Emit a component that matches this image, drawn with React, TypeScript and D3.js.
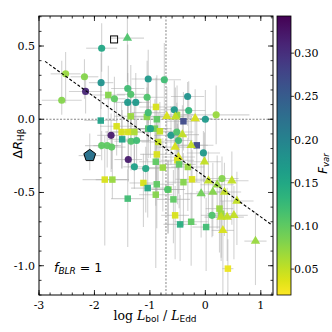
import React from 'react';
import * as d3 from 'd3';

// [log Lbol/LEdd, dR_Hb, Fvar, xerr, yerrLow, yerrHigh]
const circles = [
  [-1.87, 0.485, 0.15, 0.28, 0.16, 0.17],
  [-2.52, 0.31, 0.07, 0.27, 0.2, 0.15],
  [-2.18, 0.29, 0.08, 0.25, 0.15, 0.12],
  [-1.88, 0.25, 0.18, 0.22, 0.18, 0.2],
  [-2.16, 0.19, 0.31, 0.3, 0.15, 0.12],
  [-2.59, 0.13, 0.08, 0.36, 0.1, 0.27],
  [-1.64, 0.14, 0.1, 0.2, 0.15, 0.15],
  [-1.03, 0.275, 0.17, 0.3, 0.3, 0.2],
  [-0.74, 0.27, 0.12, 0.3, 0.25, 0.25],
  [-1.4, 0.21, 0.12, 0.3, 0.2, 0.3],
  [-1.345, 0.17, 0.11, 0.25, 0.2, 0.2],
  [-1.05, 0.15, 0.11, 0.3, 0.25, 0.25],
  [-0.32, 0.155, 0.18, 0.3, 0.2, 0.1],
  [-1.4, 0.115, 0.17, 0.25, 0.2, 0.2],
  [-1.255, 0.115, 0.17, 0.25, 0.25, 0.2],
  [-0.56, 0.065, 0.17, 0.25, 0.25, 0.2],
  [-0.3, 0.06, 0.13, 0.3, 0.2, 0.2],
  [-1.03, 0.045, 0.12, 0.3, 0.2, 0.2],
  [0.0, 0.0, 0.17, 0.25, 0.3, 0.2],
  [0.195, 0.03, 0.07, 0.6, 0.2, 0.2],
  [-1.7, -0.11, 0.32, 0.25, 0.25, 0.15],
  [-1.87, -0.18, 0.1, 0.3, 0.1, 0.1],
  [-1.77, -0.18, 0.1, 0.25, 0.15, 0.1],
  [-1.69, -0.19, 0.1, 0.25, 0.15, 0.1],
  [-1.34, -0.15, 0.11, 0.3, 0.2, 0.15],
  [-1.24, -0.145, 0.12, 0.25, 0.2, 0.15],
  [-0.62, -0.11, 0.17, 0.3, 0.2, 0.2],
  [-0.515, -0.087, 0.11, 0.3, 0.2, 0.2],
  [-0.485, -0.145, 0.12, 0.25, 0.2, 0.2],
  [-0.035, -0.23, 0.17, 0.3, 0.2, 0.15],
  [-1.39, -0.275, 0.32, 0.25, 0.15, 0.15],
  [-1.28, -0.325, 0.16, 0.2, 0.15, 0.15],
  [-1.075, -0.337, 0.15, 0.25, 0.3, 0.15],
  [0.3, -0.405, 0.08, 0.3, 0.2, 0.15],
  [-0.68, -0.48, 0.11, 0.3, 0.3, 0.2],
  [0.12, -0.656, 0.11, 0.2, 0.15, 0.15],
  [-0.99, -0.064, 0.16, 0.3, 0.2, 0.2],
];

const squares = [
  [-1.886, -0.009, 0.16, 0.3, 0.2, 0.25],
  [-1.75, 0.166, 0.08, 0.3, 0.25, 0.2],
  [-1.6, -0.048, 0.04, 0.3, 0.2, 0.2],
  [-1.51, -0.087, 0.04, 0.3, 0.25, 0.2],
  [-1.39, -0.087, 0.04, 0.3, 0.25, 0.2],
  [-1.28, -0.087, 0.06, 0.3, 0.25, 0.2],
  [-1.5, -0.137, 0.16, 0.25, 0.2, 0.2],
  [-0.89, 0.084, 0.04, 0.3, 0.3, 0.2],
  [-1.345, 0.02, 0.07, 0.3, 0.2, 0.2],
  [-1.055, 0.016, 0.08, 0.3, 0.3, 0.2],
  [-0.875, 0.0, 0.1, 0.3, 0.2, 0.3],
  [-0.51, 0.03, 0.07, 0.3, 0.25, 0.2],
  [-0.395, -0.014, 0.27, 0.3, 0.2, 0.2],
  [-1.03, -0.064, 0.11, 0.35, 0.2, 0.2],
  [-0.91, -0.064, 0.09, 0.3, 0.25, 0.2],
  [-0.82, -0.082, 0.05, 0.3, 0.25, 0.2],
  [-0.85, -0.155, 0.05, 0.3, 0.3, 0.2],
  [-0.155, -0.178, 0.27, 0.3, 0.25, 0.2],
  [-0.875, -0.24, 0.04, 0.3, 0.3, 0.25],
  [-0.894, -0.29, 0.1, 0.3, 0.3, 0.2],
  [-0.767, -0.33, 0.07, 0.3, 0.3, 0.2],
  [-0.504, -0.28, 0.04, 0.3, 0.3, 0.25],
  [-0.473, -0.308, 0.1, 0.3, 0.3, 0.2],
  [-0.316, -0.326, 0.07, 0.3, 0.3, 0.2],
  [-1.814, -0.412, 0.04, 0.4, 0.45, 0.3],
  [-1.677, -0.412, 0.07, 0.3, 0.13, 0.3],
  [-1.117, -0.435, 0.04, 0.25, 0.3, 0.2],
  [-0.876, -0.444, 0.1, 0.3, 0.3, 0.2],
  [-1.04, -0.47, 0.15, 0.3, 0.2, 0.2],
  [-0.894, -0.515, 0.08, 0.3, 0.5, 0.2],
  [-0.666, -0.48, 0.08, 0.3, 0.3, 0.2],
  [-1.4, -0.542, 0.12, 0.3, 0.33, 0.2],
  [-0.576, -0.547, 0.1, 0.3, 0.3, 0.2],
  [-0.545, -0.656, 0.04, 0.25, 0.3, 0.2],
  [-0.455, -0.718, 0.14, 0.3, 0.25, 0.2],
  [-0.256, -0.7, 0.1, 0.3, 0.3, 0.2],
  [-0.395, -0.43, 0.08, 0.3, 0.3, 0.2],
  [-0.24, -0.41, 0.04, 0.3, 0.3, 0.2],
  [0.255, -0.61, 0.07, 0.25, 0.3, 0.2],
  [0.285, -0.645, 0.07, 0.25, 0.3, 0.2],
  [0.014, -0.736, 0.12, 0.25, 0.3, 0.2],
  [0.406, -1.02, 0.03, 0.1, 0.25, 0.2],
];

const triangles = [
  [-1.406, 0.554, 0.11, 0.3, 0.3, 0.15],
  [-0.695, 0.02, 0.04, 0.3, 0.25, 0.2],
  [-0.184, 0.005, 0.04, 0.3, 0.2, 0.2],
  [-0.54, 0.016, 0.05, 0.3, 0.2, 0.2],
  [-0.414, -0.105, 0.05, 0.3, 0.2, 0.2],
  [-0.545, -0.19, 0.04, 0.3, 0.25, 0.2],
  [-0.485, -0.258, 0.04, 0.3, 0.25, 0.2],
  [-0.256, -0.178, 0.05, 0.3, 0.25, 0.2],
  [-0.016, -0.29, 0.05, 0.3, 0.25, 0.2],
  [0.056, -0.42, 0.05, 0.3, 0.3, 0.2],
  [0.478, -0.42, 0.05, 0.3, 0.3, 0.2],
  [0.213, -0.447, 0.07, 0.3, 0.3, 0.2],
  [-0.076, -0.508, 0.09, 0.3, 0.3, 0.2],
  [0.135, -0.497, 0.08, 0.3, 0.3, 0.2],
  [0.345, -0.497, 0.05, 0.3, 0.3, 0.2],
  [0.569, -0.558, 0.05, 0.3, 0.3, 0.2],
  [0.285, -0.668, 0.05, 0.3, 0.3, 0.2],
  [0.394, -0.668, 0.05, 0.3, 0.3, 0.2],
  [0.515, -0.656, 0.05, 0.25, 0.3, 0.2],
  [0.316, -0.759, 0.04, 0.2, 0.45, 0.2],
  [0.904, -0.832, 0.07, 0.2, 0.3, 0.2],
];

const pentagons = [[-2.085, -0.248, 0.22, 0.2, 0.1, 0.15]];
const openSquares = [[-1.646, 0.545]];

const xTicks = [-3, -2, -1, 0, 1];
const yTicks = [-1.0, -0.5, 0.0, 0.5];
const cbTicks = [0.05, 0.1, 0.15, 0.2, 0.25, 0.3];

const fitSlope = -0.273;
const fitIntercept = -0.394;
const fitRange = [-2.89, 1.19];
const refX = -0.71;

const W = 332, H = 332;
const L = 39, R = 273, T = 16, B = 295;
const CBL = 277, CBR = 291;

export default function App() {
  const x = d3.scaleLinear().domain([-3, 1.22]).range([L, R]);
  const y = d3.scaleLinear().domain([-1.2, 0.705]).range([B, T]);
  const cDom = [0.02, 0.343];
  const cy = d3.scaleLinear().domain(cDom).range([B, T]);
  const color = (f: number) => d3.interpolateViridis(1 - (f - cDom[0]) / (cDom[1] - cDom[0]));

  const xMinor = d3.range(-3, 1.21, 0.2);
  const yMinor = d3.range(-1.2, 0.71, 0.1);

  const all = [...circles, ...squares, ...triangles, ...pentagons];

  const sym = (type: any, size: number) => d3.symbol().type(type).size(size)() as string;
  const circlePath = sym(d3.symbolCircle, 40);
  const squarePath = sym(d3.symbolSquare, 42);
  const triPath = sym(d3.symbolTriangle, 38);
  const pentR = 6.2;
  const pentPath = d3.line()(d3.range(5).map(i => {
    const a = -Math.PI / 2 + i * 2 * Math.PI / 5;
    return [pentR * Math.cos(a), pentR * Math.sin(a)] as [number, number];
  })) + 'Z';

  const stops = d3.range(0, 1.001, 0.05);
  const font = 'DejaVu Serif';

  const drawSet = (set: number[][], path: string, key: string) =>
    set.map((d, i) => (
      <path key={key + i} d={path} transform={`translate(${x(d[0])},${y(d[1])})`}
        fill={color(d[2])} opacity={0.95} />
    ));

  return (
    <svg width={W} height={H} style={{ position: 'absolute', left: 0, top: 0, background: '#fff' }}>
      <defs>
        <linearGradient id="cb" x1="0" y1="1" x2="0" y2="0">
          {stops.map(s => (
            <stop key={s} offset={`${s * 100}%`} stopColor={d3.interpolateViridis(1 - s)} />
          ))}
        </linearGradient>
        <clipPath id="plot"><rect x={L} y={T} width={R - L} height={B - T} /></clipPath>
      </defs>

      <g clipPath="url(#plot)">
        {/* reference lines */}
        <line x1={L} x2={R} y1={y(0)} y2={y(0)} stroke="#666" strokeWidth={0.8} strokeDasharray="2,1.5" />
        <line x1={x(refX)} x2={x(refX)} y1={T} y2={B} stroke="#666" strokeWidth={0.8} strokeDasharray="2,1.5" />

        {/* error bars */}
        {all.map((d, i) => (
          <g key={'e' + i} stroke="#a8a8a8" strokeOpacity={0.5} strokeWidth={1.1}>
            <line x1={x(d[0] - d[3])} x2={x(d[0] + d[3])} y1={y(d[1])} y2={y(d[1])} />
            <line x1={x(d[0])} x2={x(d[0])} y1={y(d[1] - d[4])} y2={y(d[1] + d[5])} />
          </g>
        ))}

        {drawSet(squares, squarePath, 's')}
        {drawSet(circles, circlePath, 'c')}
        {drawSet(triangles, triPath, 't')}
        {pentagons.map((d, i) => (
          <path key={'p' + i} d={pentPath} transform={`translate(${x(d[0])},${y(d[1])})`}
            fill={color(d[2])} stroke="#000" strokeWidth={1} />
        ))}
        {openSquares.map((d, i) => (
          <rect key={'o' + i} x={x(d[0]) - 3.5} y={y(d[1]) - 3.5} width={7} height={7}
            fill="none" stroke="#000" strokeWidth={1} />
        ))}

        {/* fit line */}
        <line x1={x(fitRange[0])} y1={y(fitSlope * fitRange[0] + fitIntercept)}
          x2={x(fitRange[1])} y2={y(fitSlope * fitRange[1] + fitIntercept)}
          stroke="#000" strokeWidth={1.1} strokeDasharray="3,2" />
      </g>

      {/* ticks */}
      <g stroke="#000" strokeWidth={0.8}>
        {xMinor.map((v, i) => (
          <g key={'xm' + i}>
            <line x1={x(v)} x2={x(v)} y1={B} y2={B - 2.5} />
            <line x1={x(v)} x2={x(v)} y1={T} y2={T + 2.5} />
          </g>
        ))}
        {xTicks.map(v => (
          <g key={'xM' + v}>
            <line x1={x(v)} x2={x(v)} y1={B} y2={B - 5} />
            <line x1={x(v)} x2={x(v)} y1={T} y2={T + 5} />
          </g>
        ))}
        {yMinor.map((v, i) => (
          <g key={'ym' + i}>
            <line x1={L} x2={L + 2.5} y1={y(v)} y2={y(v)} />
            <line x1={R} x2={R - 2.5} y1={y(v)} y2={y(v)} />
          </g>
        ))}
        {yTicks.map(v => (
          <g key={'yM' + v}>
            <line x1={L} x2={L + 5} y1={y(v)} y2={y(v)} />
            <line x1={R} x2={R - 5} y1={y(v)} y2={y(v)} />
          </g>
        ))}
      </g>
      <rect x={L} y={T} width={R - L} height={B - T} fill="none" stroke="#000" strokeWidth={1} />

      <g fontFamily={font} fontSize={11} fill="#000">
        {xTicks.map(v => (
          <text key={'xl' + v} x={x(v)} y={B + 14} textAnchor="middle">{String(v)}</text>
        ))}
        {yTicks.map(v => (
          <text key={'yl' + v} x={L - 4} y={y(v) + 4} textAnchor="end">{v.toFixed(1)}</text>
        ))}
      </g>

      {/* f_BLR label */}
      <text x={54} y={272} fontFamily="DejaVu Sans" fontSize={12.5}>
        <tspan fontStyle="italic">f</tspan>
        <tspan fontStyle="italic" fontSize={9} dy={2}>BLR</tspan>
        <tspan dy={-2}> = 1</tspan>
      </text>

      {/* axis labels */}
      <text x={155} y={320} textAnchor="middle" fontSize={12.5} fontFamily={font}>
        <tspan>log </tspan>
        <tspan fontStyle="italic">L</tspan>
        <tspan fontFamily="DejaVu Sans" fontSize={9} dy={2}>bol</tspan>
        <tspan dy={-2}> / </tspan>
        <tspan fontStyle="italic">L</tspan>
        <tspan fontFamily="DejaVu Sans" fontSize={9} dy={2}>Edd</tspan>
      </text>
      <text transform={`translate(22,${(T + B) / 2 - 12}) rotate(-90)`} textAnchor="middle"
        fontSize={12.5} fontFamily="DejaVu Sans">
        <tspan>Δ</tspan>
        <tspan fontStyle="italic">R</tspan>
        <tspan fontSize={9} dy={2}>Hβ</tspan>
      </text>

      {/* colorbar */}
      <rect x={CBL} y={T} width={CBR - CBL} height={B - T} fill="url(#cb)" stroke="#000" strokeWidth={0.8} />
      <g stroke="#000" strokeWidth={0.8}>
        {cbTicks.map(v => (
          <line key={'cb' + v} x1={CBR} x2={CBR + 3} y1={cy(v)} y2={cy(v)} />
        ))}
      </g>
      <g fontFamily={font} fontSize={11}>
        {cbTicks.map(v => (
          <text key={'cbl' + v} x={CBR + 3} y={cy(v) + 4}>{v.toFixed(2)}</text>
        ))}
      </g>
      <text transform={`translate(327,${(T + B) / 2 + 8}) rotate(-90)`} textAnchor="middle"
        fontSize={12} fontFamily="DejaVu Sans" fontStyle="italic">
        <tspan>F</tspan>
        <tspan fontSize={8.5} dy={2}>var</tspan>
      </text>
    </svg>
  );
}
